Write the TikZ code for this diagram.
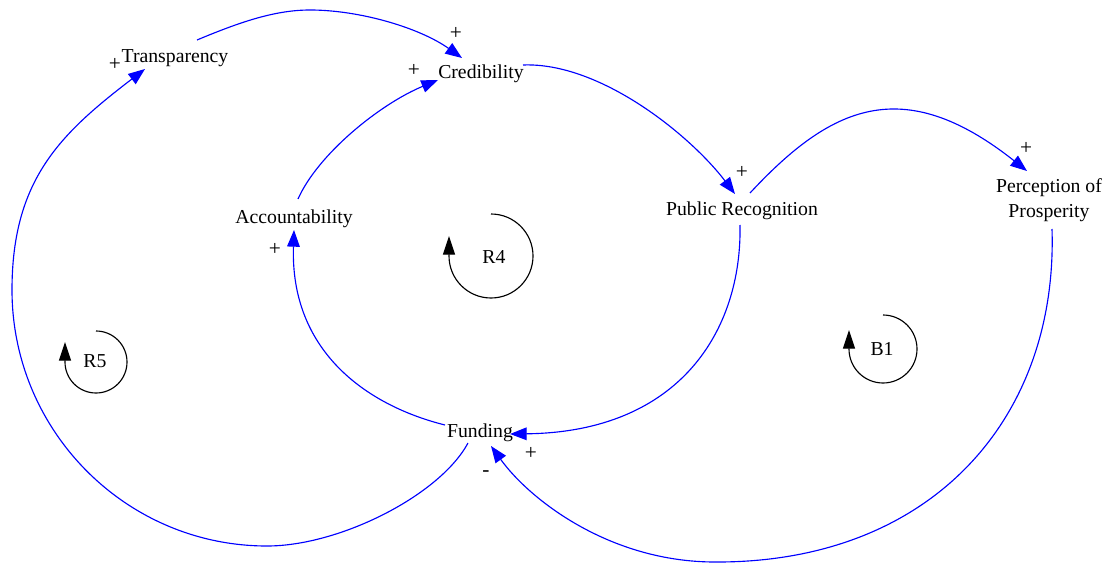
\documentclass[tikz,border=0pt]{standalone}
\usepackage{fontspec}
\setmainfont{Liberation Serif}
\usetikzlibrary{arrows.meta}
\begin{document}
\begin{tikzpicture}[x=0.75pt, y=-0.75pt,
  every node/.style={inner sep=0pt, outer sep=0pt, font=\fontsize{14.8}{18.75}\selectfont},
  var/.style={anchor=base},
  sign/.style={anchor=center, font=\fontsize{16}{18}\selectfont},
  link/.style={draw=blue, line width=0.85pt, -{Triangle[length=12.5pt, width=9.5pt]}},
  loopmark/.style={draw=black, line width=0.85pt, -{Triangle[length=14pt, width=9pt]}}]
\useasboundingbox (0,0) rectangle (1112,563);

% variables
\node[var] (trans) at (175,63) {Transparency};
\node[var] (cred) at (481,79) {Credibility};
\node[var] (acc) at (294,223) {Accountability};
\node[var] (pr) at (742,215) {Public Recognition};
\node[anchor=center, align=center] (pp) at (1049,200) {Perception of\\Prosperity};
\node[var] (fund) at (480,437) {Funding};

% loop identifiers
\node[var] (r4) at (494,263) {R4};
\node[var] (r5) at (95,367) {R5};
\node[var] (b1) at (882,355) {B1};

% causal links
\draw[link] ([shift={(22,-23)}]trans.base) .. controls (240,22) and (275,10) .. (310,10)
  .. controls (360,10) and (420,28) .. ([shift={(-19,-21)}]cred.base);
\draw[link] ([shift={(4,-24)}]acc.base) .. controls (318,154) and (380,104) .. ([shift={(-43,1)}]cred.base);
\draw[link] ([shift={(42,-14)}]cred.base) .. controls (600,62) and (690,135) .. ([shift={(-7,-21)}]pr.base);
\draw[link] ([shift={(8,-22)}]pr.base) .. controls (830,107) and (902,72) .. ([shift={(-22,-29)}]pp.center);
\draw[link] ([shift={(-2,10)}]pr.base) .. controls (742,330) and (680,432) .. ([shift={(30,-3)}]fund.base);
\draw[link] ([shift={(3,29)}]pp.center) .. controls (1058,420) and (930,563) .. (715,562)
  .. controls (610,562) and (530,500) .. ([shift={(11,9)}]fund.base);
\draw[link] ([shift={(-35,-12)}]fund.base) .. controls (365,405) and (290,350) .. ([shift={(0,7)}]acc.base);
\draw[link] ([shift={(-12,6)}]fund.base) .. controls (440,495) and (340,546) .. (267,546)
  .. controls (126,546) and (12,431) .. (12,290)
  .. controls (12,180) and (60,134) .. ([shift={(-30,6)}]trans.base);

% polarities
\node[sign] (s1) at (456,33) {+};
\node[sign] (s2) at (115,64) {+};
\node[sign] (s3) at (414,70) {+};
\node[sign] (s4) at (742,172) {+};
\node[sign] (s5) at (1026,148) {+};
\node[sign] (s6) at (275,249) {+};
\node[sign] (s7) at (531,453) {+};
\node[sign] (s8) at (486,474) {-};

% loop arrows
\draw[loopmark] (491,214) arc[start angle=-90, end angle=180, radius=42] -- ++(0,-20);
\draw[loopmark] (96,331) arc[start angle=-90, end angle=180, radius=31] -- ++(0,-20);
\draw[loopmark] (883,315) arc[start angle=-90, end angle=180, radius=34] -- ++(0,-19);
\end{tikzpicture}
\end{document}
